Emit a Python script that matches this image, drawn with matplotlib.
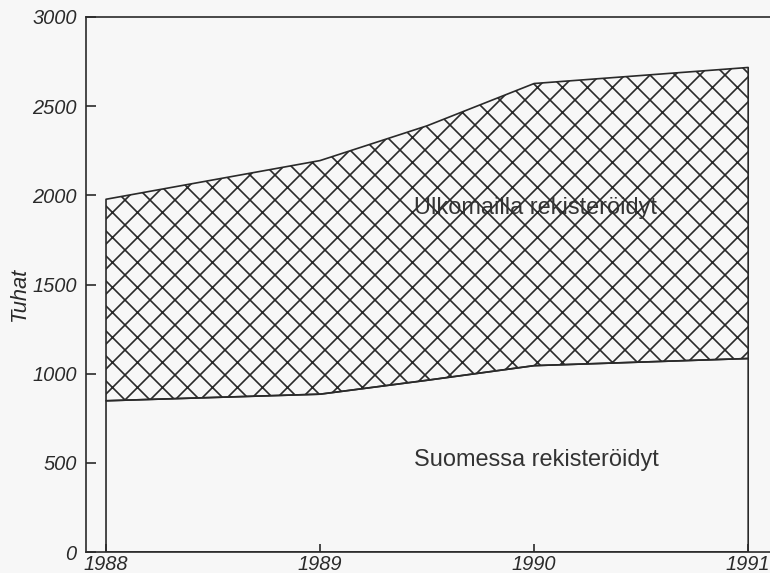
import matplotlib
matplotlib.use("Agg")
import matplotlib.pyplot as plt

# values (thousands)
years = [1988, 1989, 1989.5, 1990, 1991]
domestic = [848, 885, 963, 1045, 1085]
total = [1978, 2195, 2390, 2627, 2717]

yticks = [0, 500, 1000, 1500, 2000, 2500, 3000]
xticks = [1988, 1989, 1990, 1991]

bg = "#f7f7f7"
ink = "#2a2a2a"

plt.rcParams["font.family"] = ["Liberation Sans", "DejaVu Sans"]
plt.rcParams["hatch.linewidth"] = 0.8
plt.rcParams["hatch.color"] = ink

fig = plt.figure(figsize=(770 / 150, 573 / 150), dpi=150, facecolor=bg)
ax = fig.add_axes([86 / 770, 21 / 573, 0.895, 535 / 573], facecolor=bg)

# lower area (registered in Finland)
ax.fill_between(years, 0, domestic, facecolor="none", edgecolor=ink, linewidth=0.8)
# upper area (registered abroad), cross-hatched
ax.fill_between(years, domestic, total, facecolor="none", edgecolor=ink,
                linewidth=0.8, hatch="xx")

ax.set_xlim(1987.9065, 1991.126)
ax.set_ylim(0, 3000)
ax.set_xticks(xticks)
ax.set_xticklabels([str(x) for x in xticks])
ax.set_yticks(yticks)
ax.set_yticklabels([str(y) for y in yticks])

ax.tick_params(axis="both", direction="in", color=ink, width=0.8,
               labelsize=9.6, labelcolor=ink)
ax.tick_params(axis="y", length=5, pad=4.5)
ax.tick_params(axis="x", length=4, pad=1.5)
for lab in ax.get_xticklabels() + ax.get_yticklabels():
    lab.set_style("italic")

for sp in ax.spines.values():
    sp.set_color(ink)
    sp.set_linewidth(0.8)

ax.text(1990.005, 1927, "Ulkomailla rekisteröidyt", ha="center", va="center",
        fontsize=11.3, color="#333333")
ax.text(1990.01, 515, "Suomessa rekisteröidyt", ha="center", va="center",
        fontsize=11.3, color="#333333")

fig.text(20 / 770, 1 - 295 / 573, "Tuhat", rotation=90, ha="center",
         va="center", fontsize=10.5, style="italic", color=ink)

fig.savefig("out.png", dpi=150, facecolor=bg)
